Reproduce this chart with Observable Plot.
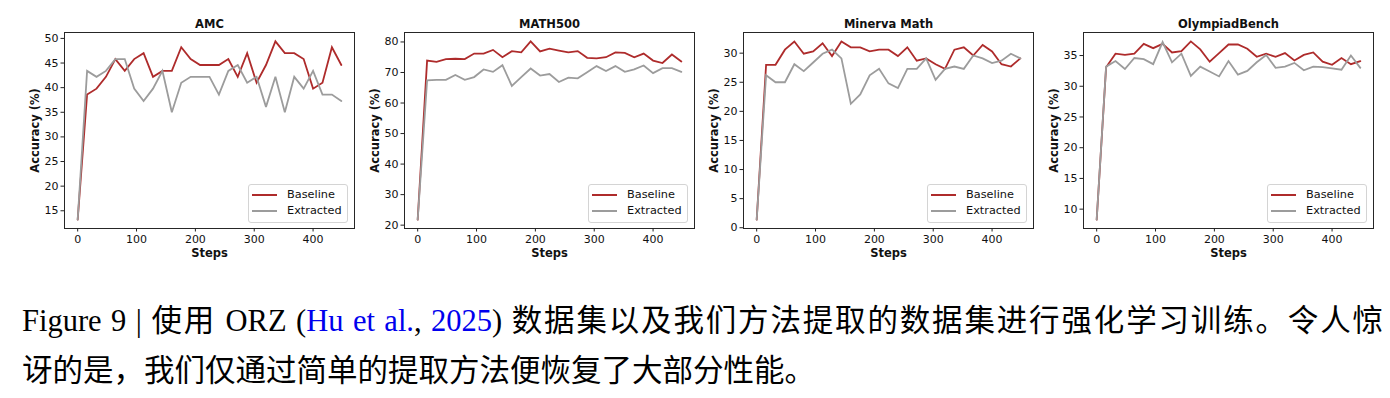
<!DOCTYPE html>
<html>
<head>
<meta charset="utf-8">
<script src="https://cdn.jsdelivr.net/npm/d3@7"></script>
<script src="https://cdn.jsdelivr.net/npm/@observablehq/plot@0.6"></script>
<style>
  html, body { margin: 0; padding: 0; background: #fff; }
  #root { position: relative; width: 1390px; height: 398px; overflow: hidden; background: #fff; }
  .panel { position: absolute; top: 0; }
  .legend {
    position: absolute; box-sizing: border-box; width: 100px; height: 39px;
    border: 1px solid #d4d4d4; border-radius: 3px; background: rgba(255,255,255,0.85);
    font-family: "DejaVu Sans", sans-serif; font-size: 11.3px; color: #111;
  }
  .legend .sw { position: absolute; left: 3px; width: 25px; height: 2px; }
  .legend .lb { position: absolute; left: 38px; line-height: 14px; white-space: nowrap; }
  .cap {
    position: absolute; left: 22px; white-space: nowrap; color: #000;
    font-family: "Liberation Serif", "Noto Sans CJK SC", serif; font-size: 30.5px; line-height: 40px;
  }
  .cap1 { width: 1361px; text-align: justify; text-align-last: justify; }
  .cap .ln { color: #0000ee; }
</style>
</head>
<body>
<div id="root"></div>
<script>
// ---- Data ----
const steps = [0, 16, 32, 48, 64, 80, 96, 112, 128, 144, 160, 176, 192, 208, 224, 240, 256, 272, 288, 304, 320, 336, 352, 368, 384, 400, 416, 432, 448];
const seriesNames = ["Baseline", "Extracted"];
const panelTitles = ["AMC", "MATH500", "Minerva Math", "OlympiadBench"];

const amcBaseline = [13.2, 38.6, 39.8, 42.2, 45.8, 43.4, 45.8, 47.0, 42.2, 43.4, 43.4, 48.2, 45.8, 44.6, 44.6, 44.6, 45.8, 42.2, 47.0, 41.0, 44.6, 49.4, 47.0, 47.0, 45.8, 39.8, 41.0, 48.2, 44.6];
const amcExtracted = [13.2, 43.4, 42.2, 43.4, 45.8, 45.8, 39.8, 37.3, 39.8, 43.4, 35.0, 41.0, 42.2, 42.2, 42.2, 38.6, 43.4, 44.6, 41.0, 42.2, 36.1, 42.2, 35.0, 42.2, 39.8, 43.4, 38.6, 38.6, 37.3];

const math500Baseline = [21.8, 73.9, 73.5, 74.4, 74.5, 74.4, 76.2, 76.2, 77.4, 75.0, 77.0, 76.6, 80.2, 76.9, 77.8, 77.2, 76.6, 77.0, 74.8, 74.6, 75.0, 76.6, 76.4, 75.0, 76.2, 73.9, 73.1, 75.9, 73.6];
const math500Extracted = [21.8, 67.4, 67.6, 67.6, 69.2, 67.6, 68.5, 71.0, 70.2, 72.4, 65.6, 68.5, 71.3, 69.0, 69.5, 66.9, 68.3, 68.1, 70.1, 72.1, 70.5, 72.1, 70.2, 71.0, 72.3, 69.8, 71.4, 71.4, 70.2];

const minervaBaseline = [1.4, 28.0, 28.0, 30.6, 32.0, 29.9, 30.3, 31.7, 29.5, 32.0, 31.0, 31.0, 30.3, 30.6, 30.6, 29.5, 31.0, 28.7, 29.1, 28.1, 27.3, 30.6, 31.0, 29.6, 31.4, 30.3, 28.1, 27.7, 29.1];
const minervaExtracted = [1.4, 26.2, 25.0, 25.0, 28.1, 26.9, 28.4, 29.9, 30.6, 29.1, 21.3, 22.9, 26.2, 27.3, 24.8, 24.0, 27.3, 27.3, 29.1, 25.4, 27.3, 27.7, 27.3, 29.6, 29.1, 28.3, 28.7, 29.9, 29.1];

const olympiadBaseline = [8.3, 33.1, 35.3, 35.1, 35.3, 36.9, 36.2, 36.9, 35.5, 35.7, 37.3, 36.0, 34.0, 35.4, 36.8, 36.8, 36.1, 34.8, 35.3, 34.8, 35.4, 34.2, 35.1, 35.5, 34.0, 33.5, 34.6, 33.6, 34.1];
const olympiadExtracted = [8.3, 33.2, 34.1, 32.8, 34.6, 34.4, 33.6, 37.2, 33.9, 35.3, 31.7, 33.2, 32.4, 31.6, 34.1, 31.9, 32.5, 33.9, 35.1, 33.0, 33.2, 33.8, 32.6, 33.2, 33.1, 32.9, 32.7, 35.0, 33.0];

const xTicks = [0, 100, 200, 300, 400];
const yTicksAmc = [15, 20, 25, 30, 35, 40, 45, 50];
const yTicksMath = [20, 30, 40, 50, 60, 70, 80];
const yTicksMinerva = [0, 5, 10, 15, 20, 25, 30];
const yTicksOlympiad = [10, 15, 20, 25, 30, 35];

const xLabel = "Steps";
const yLabel = "Accuracy (%)";
const colors = ["#ae2b2b", "#9c9c9c"];

// ---- Layout ----
const panels = [
  {title: panelTitles[0], base: amcBaseline, ext: amcExtracted, ticks: yTicksAmc, domain: [11.4, 51.2], left: 0},
  {title: panelTitles[1], base: math500Baseline, ext: math500Extracted, ticks: yTicksMath, domain: [18.9, 83.1], left: 340},
  {title: panelTitles[2], base: minervaBaseline, ext: minervaExtracted, ticks: yTicksMinerva, domain: [-0.13, 33.55], left: 679},
  {title: panelTitles[3], base: olympiadBaseline, ext: olympiadExtracted, ticks: yTicksOlympiad, domain: [6.85, 38.75], left: 1019}
];

const root = document.getElementById("root");
const W = 362, H = 265, ML = 64, MR = 8, MT = 32, MB = 37;

panels.forEach(p => {
  const rows = [];
  steps.forEach((s, i) => rows.push({step: s, value: p.base[i], series: seriesNames[0]}));
  steps.forEach((s, i) => rows.push({step: s, value: p.ext[i], series: seriesNames[1]}));

  const chart = Plot.plot({
    width: W, height: H,
    marginLeft: ML, marginRight: MR, marginTop: MT, marginBottom: MB,
    style: {background: "transparent", fontFamily: "DejaVu Sans, sans-serif", fontSize: "11px", color: "#111", overflow: "visible"},
    x: {domain: [-22.4, 470.4]},
    y: {domain: p.domain},
    color: {domain: seriesNames, range: colors},
    marks: [
      Plot.line(rows, {x: "step", y: "value", z: "series", stroke: "series", strokeWidth: 1.8, strokeLinejoin: "miter", strokeMiterlimit: 3}),
      Plot.frame({stroke: "#262626", strokeWidth: 1}),
      Plot.axisX({ticks: xTicks, tickSize: 3.5, tickPadding: 3, label: null, fontSize: 11, stroke: "#222"}),
      Plot.axisY({ticks: p.ticks, tickSize: 3.5, tickPadding: 2.5, label: null, fontSize: 11, stroke: "#222"}),
      Plot.text([p.title], {text: d => d, frameAnchor: "top", textAnchor: "middle", lineAnchor: "middle", dy: -8.5, fontWeight: "bold", fontSize: 11.5, fill: "#111"}),
      Plot.text([xLabel], {text: d => d, frameAnchor: "bottom", textAnchor: "middle", lineAnchor: "middle", dy: 25, fontWeight: "bold", fontSize: 11.5, fill: "#111"}),
      Plot.text([yLabel], {text: d => d, frameAnchor: "left", textAnchor: "middle", lineAnchor: "middle", dx: -29, rotate: -90, fontWeight: "bold", fontSize: 11.5, fill: "#111"})
    ]
  });
  const wrap = document.createElement("div");
  wrap.className = "panel";
  wrap.style.left = p.left + "px";
  wrap.appendChild(chart);
  root.appendChild(wrap);

  // legend (lower right inside axes)
  const lg = document.createElement("div");
  lg.className = "legend";
  lg.style.left = (p.left + ML + (W - ML - MR) - 6 - 100) + "px";
  lg.style.top = (H - MB - 5 - 39) + "px";
  seriesNames.forEach((name, i) => {
    const sw = document.createElement("div");
    sw.className = "sw";
    sw.style.background = colors[i];
    sw.style.top = (8.5 + i * 16.5) + "px";
    lg.appendChild(sw);
    const lb = document.createElement("div");
    lb.className = "lb";
    lb.textContent = name;
    lb.style.top = (2.5 + i * 16.5) + "px";
    lg.appendChild(lb);
  });
  root.appendChild(lg);
});

// caption
const cap1 = document.createElement("div");
cap1.className = "cap cap1";
cap1.style.top = "301px";
cap1.innerHTML = 'Figure 9 | 使用 ORZ (<span class="ln">Hu et al.</span>, <span class="ln">2025</span>) 数据集以及我们方法提取的数据集进行强化学习训练。令人惊';
root.appendChild(cap1);
const cap2 = document.createElement("div");
cap2.className = "cap";
cap2.style.top = "351px";
cap2.textContent = "讶的是，我们仅通过简单的提取方法便恢复了大部分性能。";
root.appendChild(cap2);
</script>
</body>
</html>
